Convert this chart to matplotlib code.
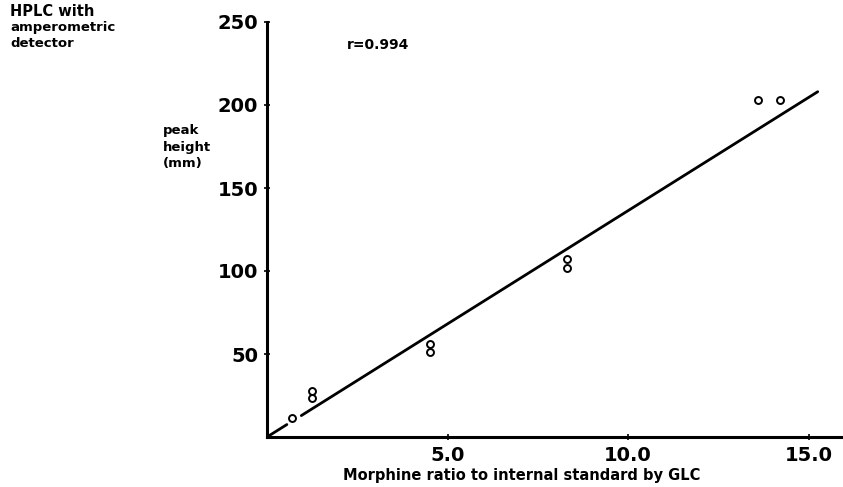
import matplotlib
matplotlib.use("Agg")
import matplotlib.pyplot as plt

# morphine ratio (GLC) vs HPLC peak height (mm)
ratio = [0.7, 1.25, 1.25, 4.5, 4.5, 8.3, 8.3, 13.6, 14.2]
peak_mm = [11.5, 27.5, 23.5, 56, 51, 107, 102, 203, 203]

# regression line, drawn with a small break near the origin like the original
fit_x = [[0.0, 0.55], [0.95, 15.25]]
fit_y = [[0.0, 7.5], [12.9, 208.0]]

x_ticks = [5.0, 10.0, 15.0]
x_ticklabels = ["5.0", "10.0", "15.0"]
y_ticks = [50, 100, 150, 200, 250]
y_ticklabels = ["50", "100", "150", "200", "250"]

plt.rcParams["font.family"] = "DejaVu Sans"
plt.rcParams["font.weight"] = "bold"

fig = plt.figure(figsize=(8.43, 4.87), dpi=100)
ax = fig.add_axes([267 / 843, 50 / 487, 576 / 843, 415 / 487])

for xs, ys in zip(fit_x, fit_y):
    ax.plot(xs, ys, color="black", linewidth=2.0, solid_capstyle="round")

ax.plot(ratio, peak_mm, linestyle="none", marker="o", markersize=5,
        markerfacecolor="white", markeredgecolor="black", markeredgewidth=1.4)

ax.set_xlim(0, 15.95)
ax.set_ylim(0, 250)
ax.set_xticks(x_ticks, x_ticklabels)
ax.set_yticks(y_ticks, y_ticklabels)
ax.tick_params(axis="both", direction="inout", length=5, width=1.2,
               labelsize=14, pad=4)
for lab in ax.get_xticklabels() + ax.get_yticklabels():
    lab.set_fontweight("heavy")

for side in ("top", "right"):
    ax.spines[side].set_visible(False)
for side in ("left", "bottom"):
    ax.spines[side].set_linewidth(2.2)

ax.set_xlabel("Morphine ratio to internal standard by GLC",
              fontsize=10.5, fontweight="bold")
ax.xaxis.set_label_coords(0.443, -0.075)

ax.text(2.2, 236, "r=0.994", fontsize=10, fontweight="bold", va="center")

fig.text(163 / 843, 1 - 124 / 487, "peak\nheight\n(mm)", fontsize=9.5,
         fontweight="bold", va="top", ha="left", linespacing=1.35)
fig.text(10 / 843, 1 - 4 / 487, "HPLC with", fontsize=10.5,
         fontweight="bold", va="top", ha="left")
fig.text(10 / 843, 1 - 21 / 487, "amperometric\ndetector", fontsize=9.5,
         fontweight="bold", va="top", ha="left", linespacing=1.3)

fig.savefig("out.png", dpi=100)
